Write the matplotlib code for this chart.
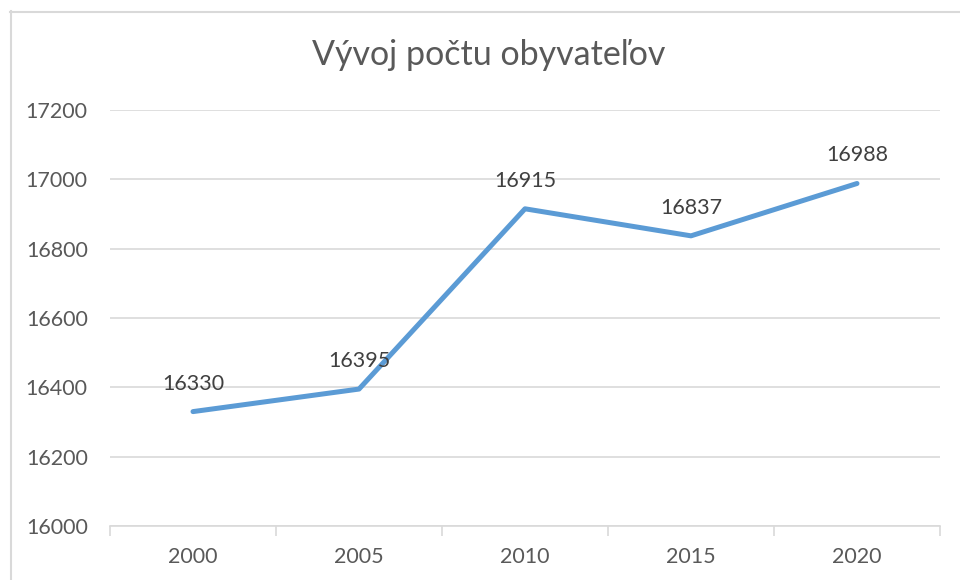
import matplotlib.pyplot as plt
from matplotlib.lines import Line2D

# population data
years = ["2000", "2005", "2010", "2015", "2020"]
population = [16330, 16395, 16915, 16837, 16988]
y_ticks = [16000, 16200, 16400, 16600, 16800, 17000, 17200]

W, H = 960, 580
fig = plt.figure(figsize=(W / 100, H / 100), dpi=100)
plt.rcParams['font.family'] = ['Lato', 'DejaVu Sans']

grey = "#595959"
light = "#d9d9d9"

# chart border (cropped on right and bottom)
fig.add_artist(Line2D([10.5 / W, 10.5 / W], [0, 1 - 11 / H], transform=fig.transFigure,
                      color=light, lw=1.5))
fig.add_artist(Line2D([10 / W, 1], [1 - 11.5 / H, 1 - 11.5 / H], transform=fig.transFigure,
                      color=light, lw=1.5))

ax = fig.add_axes([110 / W, 54 / H, 830 / W, 416 / H])
x = [i + 0.5 for i in range(len(years))]
ax.plot(x, population, color="#5b9bd5", lw=3.6, solid_capstyle="round", solid_joinstyle="round",
        zorder=3)

for xi, v in zip(x, population):
    ax.annotate(str(v), (xi, v), xytext=(0, 13), textcoords="offset points",
                ha="center", va="bottom", fontsize=15.5, color="#404040")

ax.set_xlim(0, 5)
ax.set_ylim(16000, 17200)
ax.set_yticks(y_ticks)
ax.set_yticklabels([str(t) for t in y_ticks])
ax.set_xticks(x)
ax.set_xticklabels(years)
ax.set_xticks(range(6), minor=True)
ax.tick_params(axis="x", which="major", length=0, pad=15, labelsize=15.5, labelcolor=grey)
ax.tick_params(axis="x", which="minor", length=7, color=light, width=1.2)
ax.tick_params(axis="y", length=0, pad=16, labelsize=15.5, labelcolor=grey)

ax.grid(axis="y", color=light, lw=1.2)
ax.set_axisbelow(True)
for s in ["top", "right", "left"]:
    ax.spines[s].set_visible(False)
ax.spines["bottom"].set_color(light)
ax.spines["bottom"].set_linewidth(1.2)

fig.text(489 / W, 1 - 55 / H, "Vývoj počtu obyvateľov", ha="center", va="center",
         fontsize=24.5, color=grey)

fig.savefig("out.png", dpi=100)
